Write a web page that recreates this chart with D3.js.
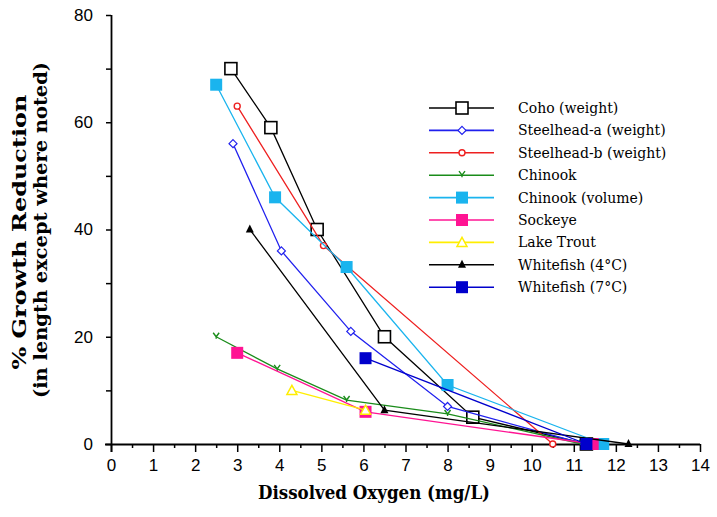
<!DOCTYPE html>
<html>
<head>
<meta charset="utf-8">
<script src="https://cdn.jsdelivr.net/npm/d3@7"></script>
<style>
  body { margin: 0; background: #fff; }
  svg { display: block; }
  .tick text { font-family: "Liberation Sans", Arial, sans-serif; font-size: 17px; fill: #000; }
  .legend text { font-family: "DejaVu Serif", serif; font-size: 14px; }
  .title { font-family: "DejaVu Serif", serif; font-weight: bold; font-size: 18px; }
</style>
</head>
<body>
<svg id="chart" width="717" height="517"></svg>
<script>
// series: [oxygen mg/L, % growth reduction]
const coho = [[2.85, 70], [3.8, 59], [4.9, 40], [6.5, 20], [8.6, 5], [11.3, 0]];
const steelheadA = [[2.9, 56], [4.05, 36], [5.7, 21], [8.0, 7], [11.25, 0]];
const steelheadB = [[3.0, 63], [5.05, 37], [10.5, 0]];
const chinook = [[2.5, 20], [3.95, 14], [5.6, 8.2], [8.0, 5.6], [11.2, 0]];
const chinookVol = [[2.5, 67], [3.9, 46], [5.6, 33], [8.0, 11], [11.7, 0]];
const sockeye = [[3.0, 17], [6.05, 6], [11.45, 0]];
const lakeTrout = [[4.3, 10], [6.05, 6.3]];
const whitefish4 = [[3.3, 40], [6.5, 6.3], [12.3, 0]];
const whitefish7 = [[6.05, 16], [11.3, 0]];

const seriesNames = ["Coho (weight)", "Steelhead-a (weight)", "Steelhead-b (weight)", "Chinook",
  "Chinook (volume)", "Sockeye", "Lake Trout", "Whitefish (4\u00b0C)", "Whitefish (7\u00b0C)"];
const seriesData = [coho, steelheadA, steelheadB, chinook, chinookVol, sockeye, lakeTrout, whitefish4, whitefish7];
const seriesColors = ["#000000", "#2020ee", "#ee2020", "#1a8c1a", "#1ab4ee", "#ff1493", "#ffee00", "#000000", "#0000cc"];
const seriesMarkers = ["openSquare", "diamond", "circle", "cross", "square", "square", "triangle", "triangleFill", "square"];

const xTicks = d3.range(0, 15);
const yTicks = [0, 20, 40, 60, 80];

const svg = d3.select('#chart');

const x = d3.scaleLinear().domain([0, 14]).range([111, 700]);
const y = d3.scaleLinear().domain([0, 80]).range([444, 15]);

// axes
const xAxis = svg.append('g').attr('transform', 'translate(0,444)')
  .call(d3.axisBottom(x).tickValues(xTicks).tickSize(8).tickSizeOuter(0).tickPadding(7));
svg.append('g').attr('transform', 'translate(0,444)')
  .call(d3.axisBottom(x).tickValues(d3.range(0.5, 14, 1)).tickSize(4).tickFormat('').tickSizeOuter(0))
  .select('.domain').remove();
xAxis.select('.domain').attr('d', 'M105,0.5H700').attr('stroke-width', 1.8);

const yAxis = svg.append('g').attr('transform', 'translate(111,0)')
  .call(d3.axisLeft(y).tickValues(yTicks).tickSize(5).tickSizeOuter(0).tickPadding(13));
svg.append('g').attr('transform', 'translate(111,0)')
  .call(d3.axisLeft(y).tickValues([10, 30, 50, 70]).tickSize(5).tickFormat('').tickSizeOuter(0))
  .select('.domain').remove();
yAxis.select('.domain').attr('d', 'M0.5,15V452').attr('stroke-width', 1.8);
svg.selectAll('.tick line').attr('stroke-width', 1.5);

// titles
svg.append('text').attr('class', 'title')
  .attr('x', 374).attr('y', 499).attr('text-anchor', 'middle')
  .attr('textLength', 232).attr('lengthAdjust', 'spacingAndGlyphs')
  .text('Dissolved Oxygen (mg/L)');
svg.append('text').attr('class', 'title')
  .attr('transform', 'translate(26,232) rotate(-90)').attr('text-anchor', 'middle')
  .attr('textLength', 275).attr('lengthAdjust', 'spacingAndGlyphs')
  .text('% Growth Reduction');
svg.append('text').attr('class', 'title')
  .attr('transform', 'translate(47,230) rotate(-90)').attr('text-anchor', 'middle')
  .attr('textLength', 336).attr('lengthAdjust', 'spacingAndGlyphs')
  .text('(in length except where noted)');

const line = d3.line().x(d => x(d[0])).y(d => y(d[1]));

function drawMarker(g, type, color, cx, cy) {
  if (type === 'openSquare') {
    g.append('rect').attr('x', cx - 6).attr('y', cy - 6).attr('width', 12).attr('height', 12)
      .attr('fill', '#fff').attr('stroke', color).attr('stroke-width', 1.6);
  } else if (type === 'square') {
    g.append('rect').attr('x', cx - 6).attr('y', cy - 6).attr('width', 12).attr('height', 12)
      .attr('fill', color);
  } else if (type === 'diamond') {
    g.append('path').attr('d', `M${cx},${cy - 4}L${cx + 4},${cy}L${cx},${cy + 4}L${cx - 4},${cy}Z`)
      .attr('fill', '#fff').attr('stroke', color).attr('stroke-width', 1.2);
  } else if (type === 'circle') {
    g.append('circle').attr('cx', cx).attr('cy', cy).attr('r', 3)
      .attr('fill', '#fff').attr('stroke', color).attr('stroke-width', 1.4);
  } else if (type === 'cross') {
    g.append('path').attr('d', `M${cx - 3},${cy - 4}L${cx},${cy}L${cx + 3},${cy - 4}M${cx},${cy}V${cy + 2}`)
      .attr('fill', 'none').attr('stroke', color).attr('stroke-width', 1.4);
  } else if (type === 'triangle') {
    g.append('path').attr('d', `M${cx},${cy - 5}L${cx + 5},${cy + 4}L${cx - 5},${cy + 4}Z`)
      .attr('fill', '#fff').attr('stroke', color).attr('stroke-width', 1.5);
  } else if (type === 'triangleFill') {
    g.append('path').attr('d', `M${cx},${cy - 5}L${cx + 4},${cy + 3}L${cx - 4},${cy + 3}Z`)
      .attr('fill', color);
  }
}

const plot = svg.append('g');
seriesData.forEach((data, i) => {
  const g = plot.append('g');
  g.append('path').datum(data).attr('d', line)
    .attr('fill', 'none').attr('stroke', seriesColors[i]).attr('stroke-width', 1.3);
  data.forEach(d => drawMarker(g, seriesMarkers[i], seriesColors[i], x(d[0]), y(d[1])));
});

// legend
const legend = svg.append('g').attr('class', 'legend');
seriesNames.forEach((name, i) => {
  const ly = 108 + i * 22.4;
  const g = legend.append('g');
  g.append('line').attr('x1', 429).attr('x2', 494).attr('y1', ly).attr('y2', ly)
    .attr('stroke', seriesColors[i]).attr('stroke-width', 1.6);
  drawMarker(g, seriesMarkers[i], seriesColors[i], 462, ly);
  g.append('text').attr('x', 518).attr('y', ly + 5).text(name);
});
</script>
</body>
</html>
